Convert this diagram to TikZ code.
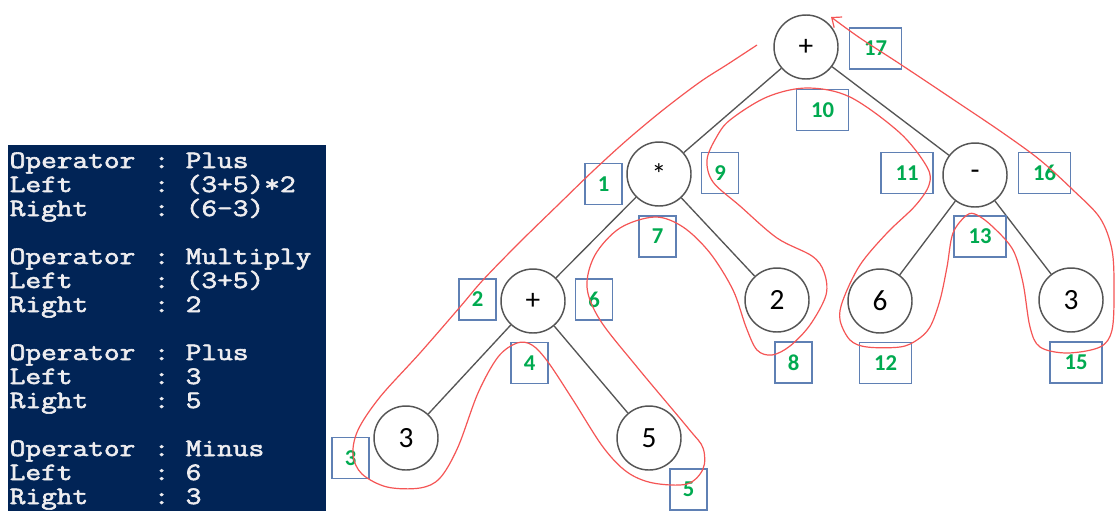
\documentclass[tikz,border=0pt]{standalone}
\usepackage{fontspec}
\usetikzlibrary{arrows.meta}
\setmainfont{Carlito}
\newfontfamily\consolefont{Latin Modern Mono}[FakeBold=2.2]
\definecolor{psnavy}{RGB}{1,36,86}
\definecolor{pstext}{RGB}{238,237,240}
\definecolor{boxblue}{RGB}{95,128,180}
\definecolor{stepgreen}{RGB}{0,170,80}
\definecolor{tourred}{RGB}{245,85,85}
\definecolor{treegray}{RGB}{85,85,85}
\newcommand{\consoleline}[1]{\scalebox{1}[0.82]{#1}}
\begin{document}
\begin{tikzpicture}[x=0.75pt,y=-0.75pt,
  opnode/.style={circle, draw=treegray, line width=1.1pt, fill=white,
    minimum size=48pt, inner sep=0pt, font=\fontsize{22}{26}\selectfont},
  treeedge/.style={draw=treegray, line width=1pt},
  stepbox/.style={draw=boxblue, line width=0.9pt, minimum height=30.75pt,
    inner sep=0pt, text=stepgreen, font=\bfseries\fontsize{17}{20}\selectfont},
  onedigit/.style={stepbox, minimum width=27.75pt},
  twodigit/.style={stepbox, minimum width=39pt},
  consoletxt/.style={anchor=base west, inner sep=0pt, text=pstext,
    font=\consolefont\fontsize{22.86}{26}\selectfont},
  tour/.style={draw=tourred, line width=0.9pt}
]
\useasboundingbox (0,0) rectangle (1116,511);
\fill[white] (0,0) rectangle (1116,511);

% console output panel
\fill[psnavy] (8,145) rectangle (326,511);
\foreach \k/\lab/\val in {0/Operator/Plus, 1/Left/(3+5)*2, 2/Right/(6-3),
    4/Operator/Multiply, 5/Left/(3+5), 6/Right/2,
    8/Operator/Plus, 9/Left/3, 10/Right/5,
    12/Operator/Minus, 13/Left/6, 14/Right/3} {
  \node[consoletxt] (lab\k) at (9.5,168+24*\k) {\consoleline{\lab}};
  \node[consoletxt] (col\k) at (153.5,168+24*\k) {\consoleline{:}};
  \node[consoletxt] (val\k) at (185.5,168+24*\k) {\consoleline{\val}};
}

% expression tree
\node[opnode] (root)   at (806,47)  {+};
\node[opnode] (mul)    at (659,174) {*};
\node[opnode] (minus)  at (975,175) {-};
\node[opnode] (plus)   at (533,301) {+};
\node[opnode] (two)    at (777,300) {2};
\node[opnode] (six)    at (880,301) {6};
\node[opnode] (threeB) at (1071,300) {3};
\node[opnode] (threeA) at (406,438) {3};
\node[opnode] (five)   at (649,438) {5};

\draw[treeedge] (root) -- (mul);
\draw[treeedge] (root) -- (minus);
\draw[treeedge] (mul) -- (plus);
\draw[treeedge] (mul) -- (two);
\draw[treeedge] (plus) -- (threeA);
\draw[treeedge] (plus) -- (five);
\draw[treeedge] (minus) -- (six);
\draw[treeedge] (minus) -- (threeB);

% visit order boxes
\node[onedigit] (s1)  at (603.5,184)   {1};
\node[onedigit] (s2)  at (477.5,299.5) {2};
\node[onedigit] (s3)  at (350.5,458)   {3};
\node[onedigit] (s4)  at (529.5,363)   {4};
\node[onedigit] (s5)  at (688.5,489.5) {5};
\node[onedigit] (s6)  at (594,299.5)   {6};
\node[onedigit] (s7)  at (657.5,236.5) {7};
\node[onedigit] (s8)  at (793.5,362.5) {8};
\node[onedigit] (s9)  at (720,173)     {9};
\node[twodigit] (s10) at (822.5,110)   {10};
\node[twodigit] (s11) at (907,173)     {11};
\node[twodigit] (s12) at (885.5,363)   {12};
\node[twodigit] (s13) at (980,236.5)   {13};
\node[twodigit] (s15) at (1076,362.5)  {15};
\node[twodigit] (s16) at (1044.5,173)  {16};
\node[twodigit] (s17) at (875.5,48.5)  {17};

% traversal contour
\coordinate (tourstart) at (757,45);
\coordinate (tourend) at (831,17);
\draw[tour, -{Straight Barb[length=6pt,width=10pt]}] plot[smooth, tension=0.55] coordinates {
  (tourstart) (728,64) (700,82) (663,110) (627,140) (593,171) (560,203)
  (520,242) (483,280) (460,307) (420,353) (380,397) (358,430) (353,455)
  (362,474) (387,487) (420,488) (440,478) (458,447) (478,393) (498,357)
  (517,343) (532,345) (548,362) (573,400) (603,447) (627,472) (653,483)
  (687,484) (703,469) (703,448) (688,428) (637,367) (600,320) (587,287)
  (595,255) (620,228) (655,217) (683,227) (710,253) (733,290) (746,327)
  (757,350) (772,355) (790,346) (810,325) (826,295) (824,272) (812,256)
  (777,238) (740,206) (713,182) (707,160) (716,138) (730,120) (767,97)
  (807,88) (850,97) (900,133) (927,167) (929,185) (915,206) (887,233)
  (860,265) (843,300) (840,320) (850,340) (867,347) (900,347) (917,340)
  (930,327) (940,300) (947,267) (953,233) (967,215) (977,215) (993,227)
  (1013,250) (1023,283) (1030,327) (1040,347) (1067,353) (1100,347)
  (1112,330) (1114,290) (1112,250) (1100,218) (1073,190) (1040,160)
  (1003,133) (960,104) (900,64) (860,38) (tourend)
};
\end{tikzpicture}
\end{document}
